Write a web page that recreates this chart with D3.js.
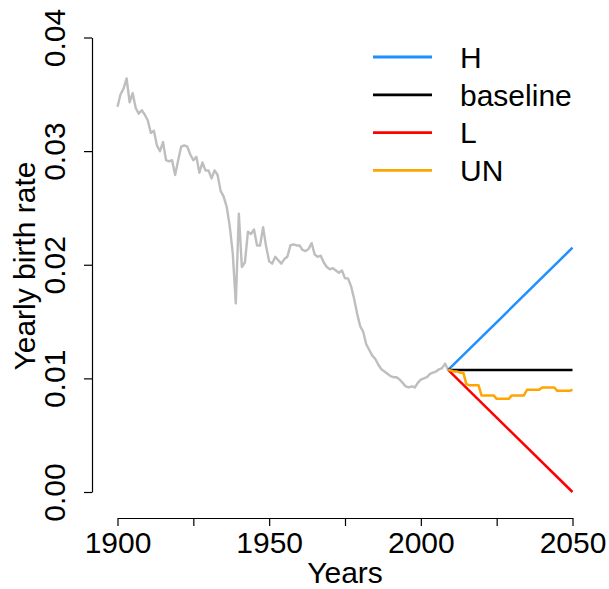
<!DOCTYPE html>
<html><head><meta charset="utf-8">
<script src="https://cdn.jsdelivr.net/npm/d3@7"></script>
<style>body{margin:0;background:#fff}svg{display:block}text{font-family:"Liberation Sans",Arial,Helvetica,sans-serif;fill:#000}</style>
</head><body>
<script>
// Historical yearly birth rate 1900-2009
const histStart = 1900;
const histValues = [
0.0339,0.0350,0.0355,0.0364,0.0343,0.0351,0.0338,0.0333,0.0336,0.0332,
0.0327,0.0316,0.0318,0.0305,0.0300,0.0308,0.0292,0.0291,0.0292,0.0279,
0.0292,0.0304,0.0305,0.0304,0.0297,0.0292,0.0295,0.0281,0.0290,0.0283,
0.0283,0.0276,0.0283,0.0279,0.0265,0.0260,0.0251,0.0234,0.0210,0.0166,
0.0245,0.0198,0.0202,0.0229,0.0227,0.0231,0.0217,0.0217,0.0233,0.0216,
0.0203,0.0201,0.0207,0.0204,0.0201,0.0205,0.0207,0.0217,0.0218,0.0217,
0.0217,0.0213,0.0212,0.0214,0.0219,0.0209,0.0207,0.0208,0.0202,0.0198,
0.0196,0.0197,0.0195,0.0193,0.0195,0.0188,0.0188,0.0181,0.0170,0.0157,
0.0146,0.0141,0.0130,0.0125,0.0120,0.0117,0.0112,0.0108,0.0106,0.0104,
0.0102,0.0101,0.0101,0.0099,0.0096,0.0093,0.0092,0.0093,0.0092,0.0096,
0.0099,0.0100,0.0101,0.0104,0.0105,0.0106,0.0108,0.0109,0.0113,0.01074
];
// Scenario projections
const scenYears = [2009, 2050];
const scenH = [0.01074, 0.0215];
const scenBaseline = [0.01074, 0.01074];
const scenL = [0.01074, 0.0];
const unStart = 2009;
const unValues = [
0.01074,0.0107,0.0106,0.0106,0.0105,0.0105,0.0095,0.0094,0.0094,0.0094,
0.0094,0.0085,0.0085,0.0085,0.0085,0.0085,0.0082,0.0082,0.0082,0.0082,
0.0082,0.0085,0.0085,0.0085,0.0085,0.0085,0.0090,0.0090,0.0090,0.0090,
0.0090,0.0092,0.0092,0.0092,0.0092,0.0092,0.0089,0.0089,0.0089,0.0089,
0.0089,0.0090
];
const xTicks = [1900,1925,1950,1975,2000,2025,2050];
const xTickLabels = ["1900","","1950","","2000","","2050"];
const yTicks = [0,0.01,0.02,0.03,0.04];
const yTickLabels = ["0.00","0.01","0.02","0.03","0.04"];
const legendNames = ["H","baseline","L","UN"];
const legendColors = ["#1E90FF","#000000","#FF0000","#FFA500"];

const W=609,H=589;
const svg=d3.select("body").append("svg").attr("width",W).attr("height",H);
const x=d3.scaleLinear().domain([1900,2050]).range([117.5,572.5]);
const y=d3.scaleLinear().domain([0,0.04]).range([492,37.5]);
const line=d3.line().x(d=>x(d[0])).y(d=>y(d[1]));

const hist=histValues.map((v,i)=>[histStart+i,v]);
svg.append("path").attr("d",line(hist)).attr("fill","none").attr("stroke","#BEBEBE").attr("stroke-width",2.4).attr("stroke-linejoin","round");

const scen=[scenH,scenBaseline,scenL];
scen.forEach((s,k)=>{
  svg.append("path").attr("d",line(scenYears.map((yr,i)=>[yr,s[i]])))
    .attr("fill","none").attr("stroke",legendColors[k]).attr("stroke-width",2.5);
});
const un=unValues.map((v,i)=>[unStart+i,v]);
svg.append("path").attr("d",line(un)).attr("fill","none").attr("stroke",legendColors[3]).attr("stroke-width",2.5).attr("stroke-linejoin","round");

// axes
const fs=30;
const xa=svg.append("g").attr("transform","translate(0,518)")
  .call(d3.axisBottom(x).tickValues(xTicks).tickSize(8).tickSizeOuter(0).tickFormat((d,i)=>xTickLabels[i]));
xa.select(".domain").attr("stroke","#000").attr("stroke-width",1.2);
xa.selectAll(".tick line").attr("stroke","#000").attr("stroke-width",1.2);
xa.selectAll(".tick text").attr("font-size",fs).attr("dy",null).attr("y",35).attr("font-family","Liberation Sans, Arial, sans-serif");

const ya=svg.append("g").attr("transform","translate(92,0)")
  .call(d3.axisLeft(y).tickValues(yTicks).tickSize(8).tickSizeOuter(0).tickFormat((d,i)=>yTickLabels[i]));
ya.select(".domain").attr("stroke","#000").attr("stroke-width",1.2);
ya.selectAll(".tick line").attr("stroke","#000").attr("stroke-width",1.2);
ya.selectAll(".tick text").attr("font-size",fs).attr("x",null).attr("dy",null)
  .attr("transform","translate(-27,0) rotate(-90)").attr("text-anchor","middle").attr("y",0)
  .attr("font-family","Liberation Sans, Arial, sans-serif");

svg.append("text").attr("x",(x(1900)+x(2050))/2).attr("y",583).attr("text-anchor","middle").attr("font-size",fs).text("Years");
svg.append("text").attr("transform","translate(35,266) rotate(-90)").attr("text-anchor","middle").attr("font-size",fs).text("Yearly birth rate");

// legend
const lg=svg.append("g");
legendNames.forEach((n,i)=>{
  const yy=57+i*37.8;
  lg.append("line").attr("x1",373).attr("x2",432).attr("y1",yy).attr("y2",yy).attr("stroke",legendColors[i]).attr("stroke-width",2.8);
  lg.append("text").attr("x",460).attr("y",yy+10.8).attr("font-size",fs).text(n);
});
</script>
</body></html>
